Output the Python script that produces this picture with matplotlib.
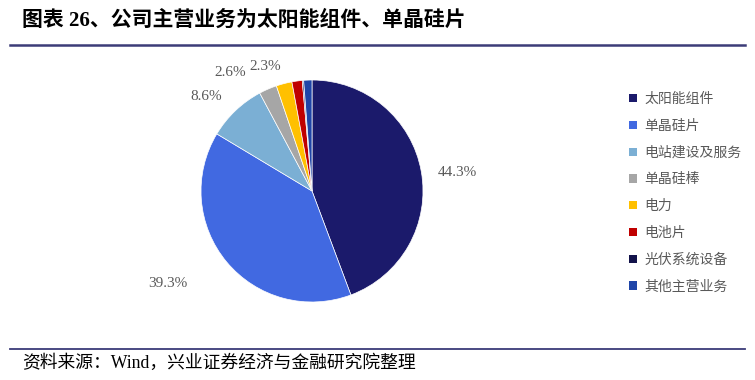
import numpy as np
import matplotlib.pyplot as plt
from matplotlib.patches import Patch

plt.rcParams['font.family'] = ['Liberation Serif', 'Noto Sans CJK SC', 'DejaVu Sans']

# %% data
categories = ['太阳能组件', '单晶硅片', '电站建设及服务', '单晶硅棒',
              '电力', '电池片', '光伏系统设备', '其他主营业务']
shares = [44.3, 39.3, 8.6, 2.6, 2.3, 1.5, 0.2, 1.2]
labelled = [True, True, True, True, True, False, False, False]
colors = ['#1B1A6B', '#4169E1', '#7BAFD4', '#A6A6A6',
          '#FFC000', '#C00000', '#12124A', '#1F45A8']

# label centres, in pie radius units (layout only)
label_xy = [(1.31, 0.17), (-1.30, -0.83), (-0.95, 0.85), (-0.74, 1.07), (-0.42, 1.12)]

# %% figure
W, H = 755, 380
fig = plt.figure(figsize=(W / 100, H / 100), dpi=100)

cx, cy, r = 312, 191, 111
ax = fig.add_axes([(cx - r) / W, (H - cy - r) / H, 2 * r / W, 2 * r / H])
wedges, _ = ax.pie(shares, colors=colors, startangle=90, counterclock=False,
                   radius=1, wedgeprops=dict(edgecolor='white', linewidth=0.5))
ax.set_xlim(-1, 1); ax.set_ylim(-1, 1)
ax.set_aspect('equal')
ax.axis('off')

k = 0
for val, show in zip(shares, labelled):
    if show:
        x, y = label_xy[k]
        ax.text(x, y, f'{val:.1f}%', ha='center', va='center', fontsize=11,
                color='#595959', clip_on=False)
        k += 1

# %% legend
handles = [Patch(facecolor=c, edgecolor='none') for c in colors]
fig.legend(handles, categories, loc='upper left', bbox_to_anchor=(622 / W, 1 - 86 / H),
           frameon=False, fontsize=10, labelspacing=0.98, handlelength=0.55,
           handleheight=0.55, handletextpad=0.55, borderpad=0, labelcolor='#595959')

# %% title, rules, source
fig.text(22 / W, 1 - 21 / H, '图表 26、公司主营业务为太阳能组件、单晶硅片',
         fontsize=15, fontweight='bold', va='center', ha='left', color='black')
fig.add_artist(plt.Line2D([10 / W, 745 / W], [1 - 45 / H] * 2, color='#3C3C78', linewidth=1.8))
fig.add_artist(plt.Line2D([10 / W, 745 / W], [1 - 349 / H] * 2, color='#3C3C78', linewidth=1.3))
fig.text(22 / W, 1 - 363 / H, '资料来源：Wind，兴业证券经济与金融研究院整理',
         fontsize=12.8, va='center', ha='left', color='black')

fig.savefig('out.png', dpi=100)
